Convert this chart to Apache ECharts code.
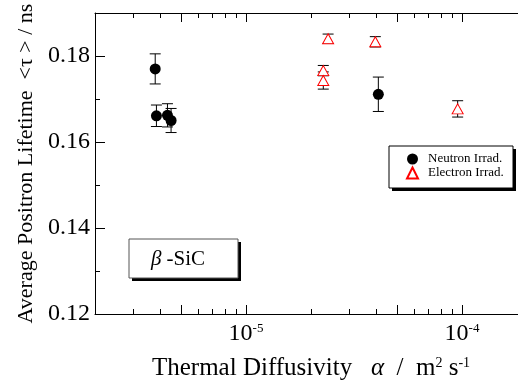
<!DOCTYPE html>
<html><head><meta charset="utf-8">
<script src="https://cdn.jsdelivr.net/npm/echarts@6/dist/echarts.min.js"></script>
<style>html,body{margin:0;padding:0;background:#fff}#c{width:518px;height:385px}</style>
</head><body><div id="c"></div>
<script>
// ---- data ----
const neutronX = [3.8e-6, 3.85e-6, 4.33e-6, 4.5e-6, 4.1e-5];
const neutronY = [0.1770, 0.1661, 0.1662, 0.1650, 0.1711];
const neutronErr = [0.0035, 0.0025, 0.0027, 0.0028, 0.0040];
const electronX = [2.4e-5, 3.97e-5, 2.28e-5, 2.28e-5, 9.55e-5];
const electronY = [0.1840, 0.1833, 0.1766, 0.1743, 0.1677];
const electronErr = [0.0011, 0.0012, 0.0012, 0.0020, 0.0019];
const xMajorTicks = [5e-6, 1e-5, 5e-5, 1e-4];
const xMinorTicks = [3e-6, 4e-6, 6e-6, 7e-6, 8e-6, 9e-6, 2e-5, 3e-5, 4e-5, 6e-5, 7e-5, 8e-5, 9e-5];
const xLabelValues = [1e-5, 1e-4];
const yMajorTicks = [0.12, 0.14, 0.16, 0.18];
const yMinorTicks = [0.13, 0.15, 0.17];
const seriesNames = ['Neutron Irrad.', 'Electron Irrad.'];

const FF = 'Liberation Serif';
const zip = (xs, ys, es) => xs.map((x, i) => es ? [x, ys[i], es[i]] : [x, ys[i]]);

function errRender(params, api) {
  const x = api.value(0), y = api.value(1), e = api.value(2);
  const t = api.coord([x, y + e]);
  const b = api.coord([x, y - e]);
  const hw = 5.5;
  const st = { stroke: '#000', lineWidth: 1 };
  return { type: 'group', children: [
    { type: 'line', shape: { x1: t[0], y1: t[1], x2: b[0], y2: b[1] }, style: st },
    { type: 'line', shape: { x1: t[0] - hw, y1: t[1], x2: t[0] + hw, y2: t[1] }, style: st },
    { type: 'line', shape: { x1: b[0] - hw, y1: b[1], x2: b[0] + hw, y2: b[1] }, style: st }
  ]};
}

const xBase = { type: 'log', logBase: 10, min: 2e-6, max: 2e-4, gridIndex: 0,
  splitLine: { show: false }, minorTick: { show: false } };
const yBase = { type: 'value', min: 0.12, max: 0.19, gridIndex: 0,
  splitLine: { show: false }, minorTick: { show: false } };

const chart = echarts.init(document.getElementById('c'));
chart.setOption({
  animation: false,
  backgroundColor: '#fff',
  grid: { left: 95, top: 13, width: 432, height: 301, outerBoundsMode: 'none', containLabel: false },
  xAxis: [
    Object.assign({}, xBase, {
      position: 'bottom',
      axisLine: { show: true, lineStyle: { color: '#000', width: 1 } },
      axisTick: { show: true, inside: true, length: 9, customValues: xMajorTicks, lineStyle: { color: '#000' } },
      axisLabel: { show: true, customValues: xLabelValues, margin: 8,
        formatter: v => '{b|10}{s|' + Math.round(Math.log10(v)) + '}',
        rich: { b: { fontFamily: FF, fontSize: 24, color: '#000' },
                s: { fontFamily: FF, fontSize: 13, color: '#000', verticalAlign: 'top' } } },
      name: '{t|Thermal Diffusivity   }{g|α}{t|  /  m}{s|2}{t| s}{s|-1}',
      nameLocation: 'middle', nameGap: 42,
      nameTextStyle: { rich: {
        t: { fontFamily: FF, fontSize: 25, color: '#000' },
        g: { fontFamily: FF, fontSize: 25, color: '#000', fontStyle: 'italic' },
        s: { fontFamily: FF, fontSize: 14, color: '#000', verticalAlign: 'top' } } }
    }),
    Object.assign({}, xBase, {
      position: 'bottom',
      axisLine: { show: false },
      axisTick: { show: true, inside: true, length: 5, customValues: xMinorTicks, lineStyle: { color: '#000' } },
      axisLabel: { show: false }
    }),
    Object.assign({}, xBase, {
      position: 'top',
      axisLine: { show: true, lineStyle: { color: '#000', width: 1 } },
      axisTick: { show: true, inside: true, length: 9, customValues: xMajorTicks, lineStyle: { color: '#000' } },
      axisLabel: { show: false }
    }),
    Object.assign({}, xBase, {
      position: 'top',
      axisLine: { show: false },
      axisTick: { show: true, inside: true, length: 5, customValues: xMinorTicks, lineStyle: { color: '#000' } },
      axisLabel: { show: false }
    })
  ],
  yAxis: [
    Object.assign({}, yBase, {
      position: 'left',
      axisLine: { show: true, lineStyle: { color: '#000', width: 1 } },
      axisTick: { show: true, inside: true, length: 10, customValues: yMajorTicks, lineStyle: { color: '#000' } },
      axisLabel: { show: true, customValues: yMajorTicks, margin: 5,
        formatter: v => v.toFixed(2),
        fontFamily: FF, fontSize: 24, color: '#000' },
      name: 'Average Positron Lifetime  <τ > / ns',
      nameLocation: 'middle', nameGap: 58, nameRotate: 90,
      nameTextStyle: { fontFamily: FF, fontSize: 22, color: '#000' }
    }),
    Object.assign({}, yBase, {
      position: 'left',
      axisLine: { show: false },
      axisTick: { show: true, inside: true, length: 5, customValues: yMinorTicks, lineStyle: { color: '#000' } },
      axisLabel: { show: false }
    })
  ],
  legend: {
    data: seriesNames,
    orient: 'vertical', left: 406, top: 152.5,
    itemWidth: 11, itemHeight: 11, itemGap: 1, padding: 0,
    formatter: n => '{a|' + n + '}',
    textStyle: { fontFamily: FF, fontSize: 13, color: '#000',
      rich: { a: { fontFamily: FF, fontSize: 13, color: '#000', padding: [0, 0, 0, 5] } } },
    z: 10
  },
  graphic: [
    { type: 'rect', z: 1, shape: { x: 392, y: 149, width: 124, height: 42 }, style: { fill: '#000' } },
    { type: 'rect', z: 2, shape: { x: 389, y: 146, width: 124, height: 42 }, style: { fill: '#fff', stroke: '#000', lineWidth: 1 } },
    { type: 'rect', z: 1, shape: { x: 132, y: 242, width: 109, height: 39 }, style: { fill: '#000' } },
    { type: 'rect', z: 2, shape: { x: 129, y: 239, width: 109, height: 39 }, style: { fill: '#fff', stroke: '#555', lineWidth: 1 } },
    { type: 'text', z: 3, x: 178, y: 259, style: {
        text: '{g|β} -SiC', align: 'center', verticalAlign: 'middle',
        rich: { g: { fontFamily: FF, fontSize: 21, fontStyle: 'italic', fill: '#000' } },
        font: '21px "Liberation Serif"', fill: '#000' } }
  ],
  series: [
    { name: 'errN', type: 'custom', xAxisIndex: 0, yAxisIndex: 0, z: 2,
      renderItem: errRender, encode: { x: 0, y: 1 }, data: zip(neutronX, neutronY, neutronErr) },
    { name: 'errE', type: 'custom', xAxisIndex: 0, yAxisIndex: 0, z: 2,
      renderItem: errRender, encode: { x: 0, y: 1 }, data: zip(electronX, electronY, electronErr) },
    { name: seriesNames[0], type: 'scatter', xAxisIndex: 0, yAxisIndex: 0, z: 3,
      symbol: 'circle', symbolSize: 11,
      itemStyle: { color: '#000', opacity: 1 }, data: zip(neutronX, neutronY) },
    { name: seriesNames[1], type: 'scatter', xAxisIndex: 0, yAxisIndex: 0, z: 4,
      symbol: 'triangle', symbolSize: [11, 10],
      itemStyle: { color: '#fff', borderColor: '#f00', borderWidth: 1, opacity: 1 }, data: zip(electronX, electronY) }
  ]
});
</script>
</body></html>
